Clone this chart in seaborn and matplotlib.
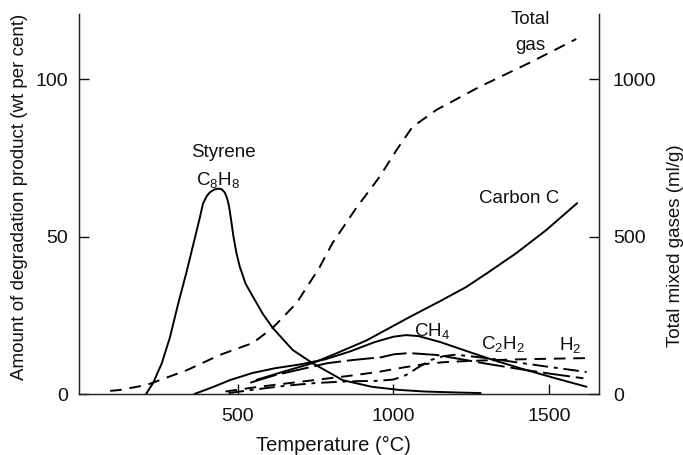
import numpy as np
import pandas as pd
import matplotlib
matplotlib.use("Agg")
import matplotlib.pyplot as plt
import seaborn as sns

# values (temperature in deg C)
styrene_t = [205, 228, 256, 282, 308, 336, 362, 378, 388, 400, 410, 424, 436, 448, 458, 466, 472, 478, 486,
             495, 506, 525, 548, 580, 612, 676, 740, 837, 930, 1019, 1100, 1200, 1280]
styrene_v = [0, 3.5, 9.8, 18, 28.5, 39, 49.5, 56, 60.4, 62.8, 64, 64.9, 65.2, 65, 64, 62, 59.5, 55.5, 50,
             45, 40.5, 35, 31, 25.5, 21, 14, 9.8, 4.4, 2.3, 1.3, 0.8, 0.5, 0.3]

carbon_t = [560, 650, 740, 804, 913, 1051, 1150, 1234, 1310, 1394, 1490, 1590]
carbon_v = [4.5, 7.2, 9.8, 12.4, 17, 24.4, 29.5, 34, 39, 44.7, 52, 60.6]

ch4_t = [360, 420, 474, 548, 620, 700, 780, 860, 940, 1000, 1040, 1080, 1150, 1230, 1320, 1420, 1520, 1620]
ch4_v = [0, 2.2, 4.4, 6.7, 8.2, 9.4, 11, 13.5, 16.5, 18.2, 18.7, 18.4, 16.5, 13.8, 10.8, 7.8, 5, 2.3]

longdash_t = [540, 620, 700, 788, 870, 962, 1000, 1050, 1138, 1220, 1300, 1400, 1500, 1610]
longdash_v = [3.6, 6, 7.8, 9.8, 10.8, 11.7, 12.6, 13, 12.4, 11, 9.6, 8, 6.5, 5]

c2h2_t = [470, 560, 650, 750, 850, 950, 1000, 1040, 1080, 1120, 1160, 1200, 1300, 1400, 1500, 1620]
c2h2_v = [0.3, 1.5, 2.6, 3.5, 4, 4.2, 4.6, 6, 8.5, 10.8, 12, 12.5, 11.4, 10, 8.6, 7]

h2_t = [460, 560, 660, 760, 860, 950, 1030, 1100, 1160, 1220, 1300, 1400, 1500, 1620]
h2_v = [0.8, 2.2, 3.4, 4.6, 5.8, 7, 8.4, 9.5, 10.1, 10.4, 10.7, 11, 11.2, 11.4]

# total gas on right axis (ml/g)
gas_t = [90, 122, 208, 337, 442, 548, 612, 689, 763, 804, 880, 955, 1010, 1061, 1138, 1276, 1436, 1587]
gas_v = [10, 13, 29, 76, 124, 162, 210, 289, 403, 479, 590, 689, 775, 848, 902, 975, 1051, 1127]

sns.set_style("ticks")
plt.rcParams["font.family"] = ["Liberation Sans", "DejaVu Sans"]
plt.rcParams["mathtext.default"] = "regular"
plt.rcParams["text.color"] = "#111111"
plt.rcParams["axes.labelcolor"] = "#111111"

fig = plt.figure(figsize=(6.83, 4.55), dpi=100)
ax = fig.add_axes([0.1157, 0.134, 0.7613, 0.835])
ax2 = ax.twinx()

lw = 1.4
sns.lineplot(x=styrene_t, y=styrene_v, ax=ax, color="black", lw=lw, errorbar=None)
sns.lineplot(x=carbon_t, y=carbon_v, ax=ax, color="black", lw=lw, errorbar=None)
sns.lineplot(x=ch4_t, y=ch4_v, ax=ax, color="black", lw=lw, errorbar=None)
sns.lineplot(x=longdash_t, y=longdash_v, ax=ax, color="black", lw=lw, errorbar=None,
             linestyle=(0, (14, 3)))
sns.lineplot(x=c2h2_t, y=c2h2_v, ax=ax, color="black", lw=lw, errorbar=None,
             linestyle=(0, (8, 3, 2, 3)))
sns.lineplot(x=h2_t, y=h2_v, ax=ax, color="black", lw=lw, errorbar=None,
             linestyle=(0, (6, 4)))
sns.lineplot(x=gas_t, y=gas_v, ax=ax2, color="black", lw=lw, errorbar=None,
             linestyle=(0, (6, 4)))

ax.set_xlim(-10, 1660)
ax.set_ylim(0, 120.6)
ax2.set_ylim(0, 1206)
ax.set_xticks([500, 1000, 1500])
ax.set_yticks([0, 50, 100])
ax2.set_yticks([0, 500, 1000])

for a in (ax, ax2):
    a.spines["top"].set_visible(False)
    a.tick_params(direction="in", length=7, width=1, labelsize=14,
                  colors="#111111")
ax2.spines["right"].set_visible(True)
ax.spines["left"].set_linewidth(1)
ax.spines["bottom"].set_linewidth(1)
ax2.spines["right"].set_linewidth(1)
ax.tick_params(axis="x", pad=10)
ax.tick_params(axis="y", pad=8)
ax2.tick_params(axis="y", pad=10)

ax.set_xlabel("Temperature (°C)", fontsize=14.5)
ax.set_ylabel("Amount of degradation product (wt per cent)", fontsize=13.5)
ax2.set_ylabel("Total mixed gases (ml/g)", fontsize=13.5)
ax.xaxis.set_label_coords(0.49, -0.11)
ax.yaxis.set_label_coords(-0.098, 0.52)
ax2.yaxis.set_label_coords(1.13, 0.39)

fs = 13.5
ax.text(455, 76.6, "Styrene", fontsize=fs, ha="center", va="center")
ax.text(436, 68, "C$_8$H$_8$", fontsize=fs, ha="center", va="center")
ax.text(1440, 119, "Total", fontsize=fs, ha="center", va="center")
ax.text(1440, 110.6, "gas", fontsize=fs, ha="center", va="center")
ax.text(1404, 62, "Carbon C", fontsize=fs, ha="center", va="center")
ax.text(1125, 20, "CH$_4$", fontsize=fs, ha="center", va="center")
ax.text(1353, 16, "C$_2$H$_2$", fontsize=fs, ha="center", va="center")
ax.text(1567, 15.6, "H$_2$", fontsize=fs, ha="center", va="center")

fig.savefig("out.png", dpi=100)
